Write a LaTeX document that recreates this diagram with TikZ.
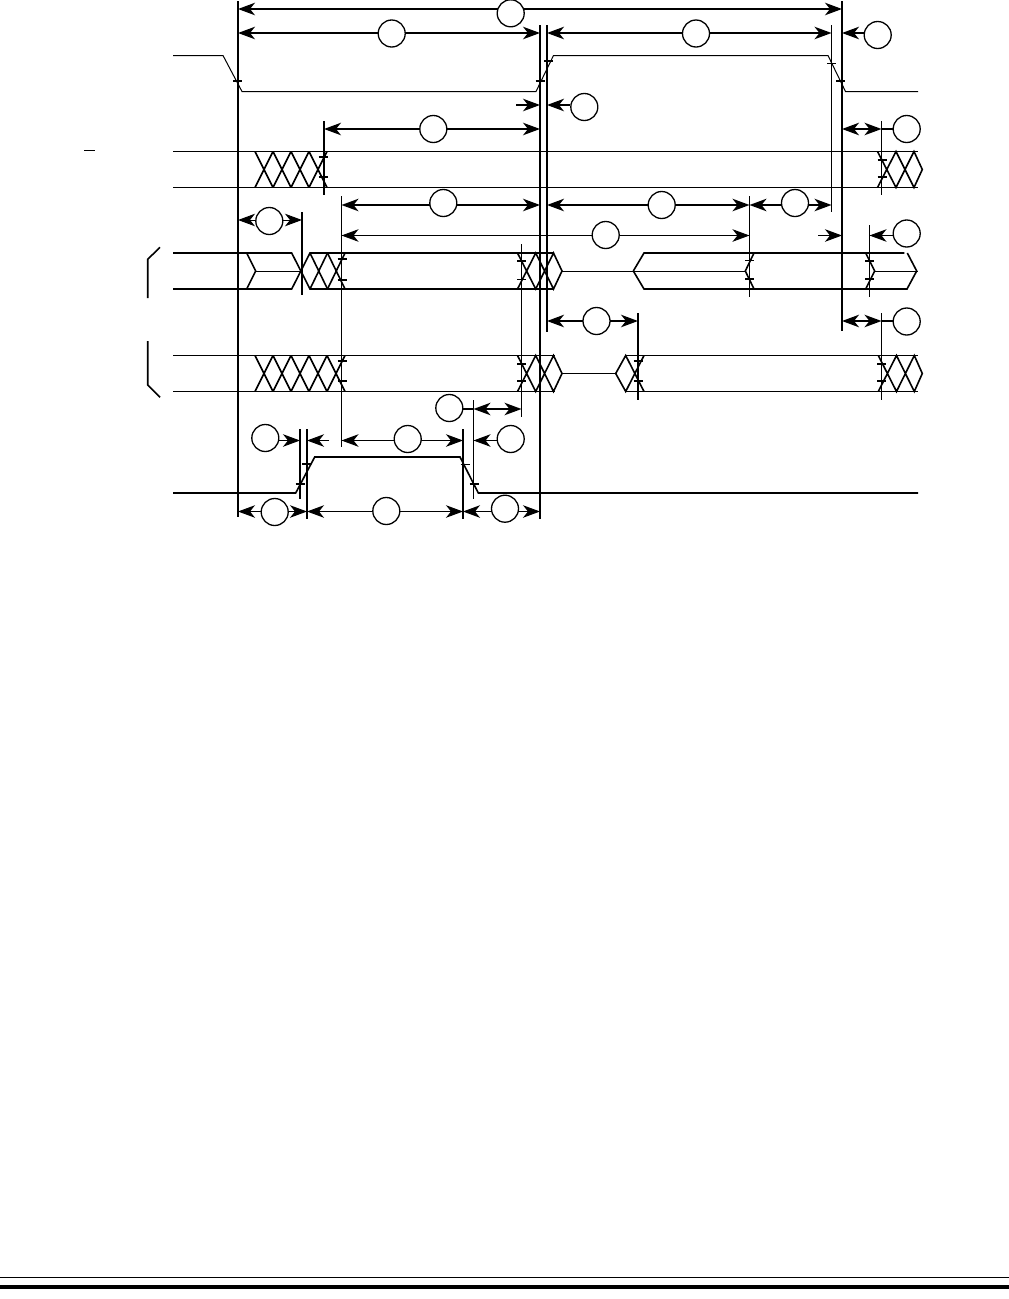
\documentclass[tikz,border=0pt]{standalone}
\usetikzlibrary{arrows.meta}
\tikzset{
    tag/.style={circle, draw, fill=white, line width=1.3pt, minimum size=27pt, inner sep=0pt},
    dimthick/.style={line width=1.6pt},
    dimthin/.style={line width=1pt},
    guidethick/.style={line width=1.8pt},
    guidethin/.style={line width=1pt},
    sigthin/.style={line width=1pt},
    sigthick/.style={line width=1.6pt},
    cross/.style={line width=1.6pt},
    tickmark/.style={line width=1.6pt},
    >={Stealth[length=17pt,width=12.5pt,inset=5pt]}
}
\begin{document}
\begin{tikzpicture}[x=1pt,y=-1pt]
    \useasboundingbox (0,0) rectangle (1009,1299);

    % guide positions
    \foreach \n/\x in {a/238,b/300,c/302,d/307,e/324,f/341.5,g/463,h/473.5,i/521.5,j/540,k/547,l/638,m/749.5,n/831.5,o/842,p/869.5,q/881.5}
        \coordinate (g\n) at (\x,0);
    \foreach \n/\y in {9/9,33/33,105/105,129/129,205/205,220/220,235/235.5,321/321,409/409,440/440.5,511/511.5}
        \coordinate (r\n) at (0,\y);

    % vertical guides
    \draw[guidethick] (238,1) -- (238,517);
    \draw[guidethick] (540,25) -- (540,519);
    \draw[guidethick] (547,25) -- (547,332);
    \draw[guidethick] (842,1) -- (842,331);
    \draw[guidethick] (324,121) -- (324,195);
    \draw[guidethick] (302,212) -- (302,295);
    \draw[guidethick] (300,429) -- (300,499);
    \draw[guidethick] (307,429) -- (307,519);
    \draw[guidethick] (463,429) -- (463,519);
    \draw[guidethick] (638,313) -- (638,400);
    \draw[guidethin] (341.5,196) -- (341.5,447);
    \draw[guidethin] (473.5,400) -- (473.5,499);
    \draw[guidethin] (521.5,244) -- (521.5,417);
    \draw[guidethin] (831.5,25) -- (831.5,212);
    \draw[guidethin] (881.5,121) -- (881.5,195);
    \draw[guidethin] (749.5,196) -- (749.5,297);
    \draw[guidethin] (869.5,225) -- (869.5,297);
    \draw[guidethin] (881.5,313) -- (881.5,400);

    % top signal
    \draw[sigthin] (173,55.5) -- (223,55.5) -- (242,91.5) -- (536,91.5) -- (553.5,55.5) -- (828,55.5) -- (845.5,91.5) -- (918,91.5);

    % second signal
    \draw[sigthin] (173,151.5) -- (918,151.5);
    \draw[sigthin] (173,187.5) -- (918,187.5);
    \draw[sigthin] (84,150.5) -- (95,150.5);
    \foreach \x in {255,273,291,309}
        \draw[cross] (\x,151.5) -- ++(18,36) (\x,187.5) -- ++(18,-36);
    \draw[cross] (877.5,151.5) -- (896,187.5) -- (914,151.5) -- (922.3,169.5) -- (914,187.5) -- (896,151.5) -- (877.5,187.5);

    % first bus
    \draw[sigthick] (173,253) -- (291.7,253) -- (310,289) -- (553.5,289);
    \draw[sigthick] (173,289) -- (291.7,289) -- (310,253) -- (553.5,253);
    \draw[cross] (246.7,253) -- (255.7,271) -- (246.7,289);
    \draw[sigthin] (255.7,271.5) -- (301,271.5);
    \foreach \x in {310,327.5}
        \draw[cross] (\x,253) -- ++(17.5,36) (\x,289) -- ++(17.5,-36);
    \draw[cross] (517.5,253) -- (535.7,289) -- (553.5,253) -- (562,271) -- (553.5,289) -- (535.7,253) -- (517.5,289);
    \draw[sigthin] (562,271.5) -- (745.3,271.5);
    \draw[sigthick] (633.3,271) -- (644,253) -- (904.3,253);
    \draw[sigthick] (633.3,271) -- (644,289) -- (907,289) -- (916.7,271) -- (907.3,253);
    \draw[cross] (754,253) -- (745.3,271) -- (754,289);
    \draw[cross] (865.7,253) -- (874.7,271) -- (865.7,289);
    \draw[sigthin] (874.7,271.5) -- (918,271.5);

    % second bus
    \draw[sigthin] (173,355.5) -- (555,355.5);
    \draw[sigthin] (173,391.5) -- (555,391.5);
    \draw[sigthin] (625,355.5) -- (918,355.5);
    \draw[sigthin] (625,391.5) -- (918,391.5);
    \foreach \x in {255,273,291,309,327}
        \draw[cross] (\x,355.5) -- ++(18,36) (\x,391.5) -- ++(18,-36);
    \draw[cross] (517.5,355.5) -- (535.7,391.5) -- (553.5,355.5) -- (562,373.5) -- (553.5,391.5) -- (535.7,355.5) -- (517.5,391.5);
    \draw[sigthick] (562,373.5) -- (615.7,373.5);
    \draw[cross] (644,391.5) -- (625.7,355.5) -- (615.7,373.5) -- (625.7,391.5) -- (644,355.5);
    \draw[cross] (878.3,355.5) -- (896.5,391.5) -- (914.3,355.5) -- (922.3,373.5) -- (914.3,391.5) -- (896.5,355.5) -- (878.3,391.5);

    % bottom signal
    \draw[sigthick] (173,493) -- (295.7,493) -- (314.7,457) -- (460,457) -- (478.3,493) -- (918,493);

    % side brackets
    \draw[sigthick] (147.7,298) -- (147.7,259.3) -- (160,247.3);
    \draw[sigthick] (147.7,341) -- (147.7,385) -- (160,397.3);

    % edge marks
    \foreach \x/\y in {237.5/81,540/81,548.7/61,831.7/63.3,840.5/81,
        323/156.7,323/177,882/160,882/176.7,
        342/259,342/280,521.7/260.7,521.7/279.3,749.5/260.5,749.5/279,869.5/260.7,869.5/279,
        342/360.7,342/380.7,521.7/364,521.7/380.7,638/361,638/381,881.7/364,881.7/381,
        300/484,306.7/463.7,465/464.3,474/483.7}
        \draw[tickmark] (\x,\y) ++(-4.5,0) -- ++(9,0);

    % double ended dimensions
    \draw[dimthick,<->] (ga |- r9) -- (go |- r9);
    \node[tag] (c1) at (510.7,13.3) {};
    \draw[dimthick,<->] (ga |- r33) -- (gj |- r33);
    \node[tag] (c2) at (391.7,33.5) {};
    \draw[dimthick,<->] (gk |- r33) -- (gn |- r33);
    \node[tag] (c3) at (696,33.5) {};
    \draw[dimthick,<->] (ge |- r129) -- (gj |- r129);
    \node[tag] (c6) at (433.3,129) {};
    \draw[dimthick,<->] (gf |- r205) -- (gj |- r205);
    \node[tag] (c8) at (443.3,203) {};
    \draw[dimthick,<->] (gk |- r205) -- (gm |- r205);
    \node[tag] (c9) at (661.7,205) {};
    \draw[dimthick,<->] (gm |- r205) -- (gn |- r205);
    \node[tag] (c10) at (795,203) {};
    \draw[dimthin,<->] (ga |- r220) -- (gc |- r220);
    \node[tag] (c11) at (269.3,221) {};
    \draw[dimthin,<->] (gf |- r235) -- (gm |- r235);
    \node[tag] (c12) at (605.7,235) {};
    \draw[dimthick,<->] (gk |- r321) -- (gl |- r321);
    \node[tag] (c14) at (596.5,321) {};
    \draw[dimthin,<->] (gf |- r440) -- (gg |- r440);
    \node[tag] (c18) at (407.7,439) {};
    \draw[dimthin,<->] (ga |- r511) -- (gd |- r511);
    \node[tag] (c20) at (274.7,512) {};
    \draw[dimthin,<->] (gd |- r511) -- (gg |- r511);
    \node[tag] (c21) at (386.3,511) {};
    \draw[dimthin,<->] (gg |- r511) -- (gj |- r511);
    \node[tag] (c22) at (505,508.7) {};

    % dimensions leading out of a circle
    \node[tag] (c4) at (877.7,35) {};
    \draw[dimthick,->] (c4.west |- r33) -- (go |- r33);
    \node[tag] (c5) at (584.3,107) {};
    \draw[dimthick,->] (c5.west |- r105) -- (gk |- r105);
    \coordinate (s5) at (516,105);
    \draw[dimthick,->] (s5) -- (gj |- r105);
    \node[tag] (c7) at (906.7,129) {};
    \draw[dimthick,<->] (go |- r129) -- (gq |- r129);
    \draw[dimthick] (gq |- r129) -- (c7.west |- r129);
    \node[tag] (c13) at (906.7,233.5) {};
    \draw[dimthin,->] (c13.west |- r235) -- (gp |- r235);
    \coordinate (s13) at (818,235.5);
    \draw[dimthin,->] (s13) -- (go |- r235);
    \node[tag] (c15) at (906.7,321.5) {};
    \draw[dimthick,<->] (go |- r321) -- (gq |- r321);
    \draw[dimthick] (gq |- r321) -- (c15.west |- r321);
    \node[tag] (c16) at (449.3,408) {};
    \draw[dimthick,<->] (gh |- r409) -- (gi |- r409);
    \draw[dimthick] (c16.east |- r409) -- (gh |- r409);
    \node[tag] (c17) at (265.3,438) {};
    \draw[dimthin,->] (c17.east |- r440) -- (gb |- r440);
    \coordinate (s17) at (329,440.5);
    \draw[dimthin,->] (s17) -- (gd |- r440);
    \node[tag] (c19) at (510.7,439) {};
    \draw[dimthin,->] (c19.west |- r440) -- (gh |- r440);

    % foot rules
    \draw[line width=1.2pt] (0,1277.3) -- (1009,1277.3);
    \draw[line width=4.5pt] (0,1287) -- (1009,1287);
\end{tikzpicture}
\end{document}
